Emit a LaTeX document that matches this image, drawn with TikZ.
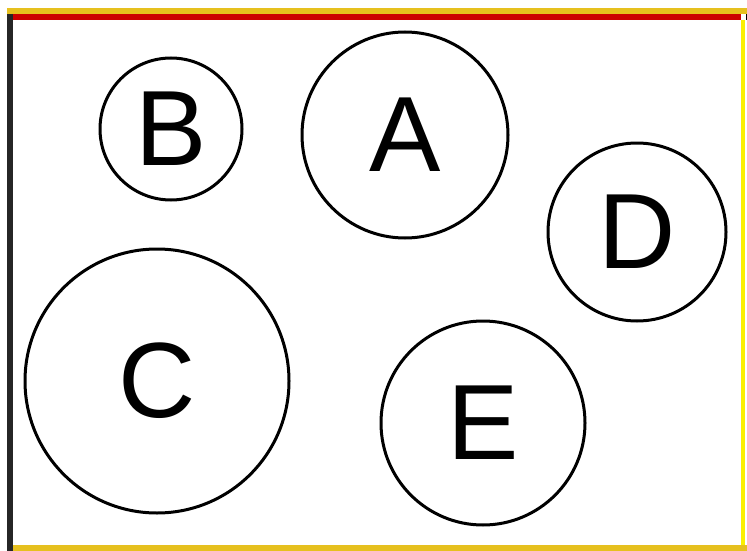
\documentclass[tikz,border=0pt]{standalone}
\usepackage{fontspec}
\setmainfont{Liberation Sans}
\definecolor{framered}{RGB}{204, 0, 0}
\definecolor{frameyellow}{RGB}{230, 192, 30}
\definecolor{edgeyellow}{RGB}{250, 240, 0}
\usetikzlibrary{positioning}

\begin{document}
\begin{tikzpicture}[x=1pt, y=-1pt,
  bubble/.style={draw, circle, line width=3pt, inner sep=0pt, font=\fontsize{107}{107}\selectfont}
]
  \useasboundingbox (0,0) rectangle (747,551);
  % frame
  \draw[frameyellow, line width=6pt] (7,11) -- (747,11);
  \draw[framered, line width=6pt] (7,17) -- (741,17);
  \draw[black!85, line width=6pt] (10,14) -- (10,551);
  \draw[frameyellow, line width=6pt] (13,548) -- (747,548);
  \draw[edgeyellow, line width=4pt] (743,20) -- (743,545);
  \draw[black, line width=1pt] (746.5,14) -- (746.5,20);

  % circles
  \node[bubble, minimum size=206pt] (A) at (405,135) {A};
  \node[bubble, minimum size=142pt] (B) at (171,129) {B};
  \node[bubble, minimum size=264pt] (C) at (157,381) {C};
  \node[bubble, minimum size=178pt] (D) at (637,232) {D};
  \node[bubble, minimum size=204pt] (E) at (483,423) {E};
\end{tikzpicture}
\end{document}
